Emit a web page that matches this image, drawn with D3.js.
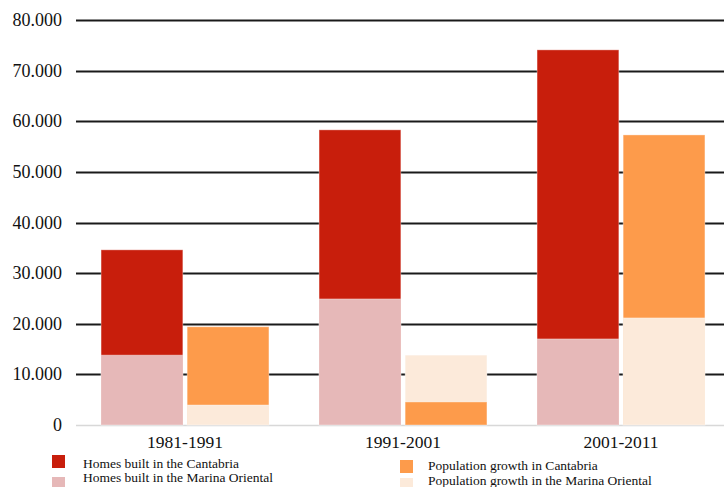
<!DOCTYPE html>
<html>
<head>
<meta charset="utf-8">
<script src="https://cdn.jsdelivr.net/npm/d3@7"></script>
<style>
  html, body { margin: 0; padding: 0; background: #fff; }
  svg { display: block; }
  text { font-family: "Liberation Serif", "DejaVu Serif", serif; fill: #111; }
</style>
</head>
<body>
<svg id="chart" width="724" height="487"></svg>
<script>
// Decades compared
const periods = ["1981-1991", "1991-2001", "2001-2011"];

// Housing built per decade
const homesCantabria = [34600, 58300, 74100];
const homesMarina = [13800, 24900, 17000];

// Population growth per decade
const popCantabria = [19400, 4550, 57300];
const popMarina = [3950, 13800, 21150];

// Axis ticks
const yTicks = [0, 10000, 20000, 30000, 40000, 50000, 60000, 70000, 80000];
const yTickLabels = ["0", "10.000", "20.000", "30.000", "40.000", "50.000", "60.000", "70.000", "80.000"];

const seriesNames = ["Homes built in the Cantabria", "Homes built in the Marina Oriental",
                     "Population growth in Cantabria", "Population growth in the Marina Oriental"];
const colors = {
  homesCantabria: "#C81E0C",
  homesMarina: "#E6B8B8",
  popCantabria: "#FD9B4B",
  popMarina: "#FCEADA"
};

const svg = d3.select("#chart");

const y = d3.scaleLinear().domain([0, 80000]).range([425, 20]);
const x0 = d3.scaleBand().domain(periods).range([76, 730]).paddingInner(0.23).paddingOuter(0.115);
const x1 = d3.scaleBand().domain(["homes", "pop"]).range([0, x0.bandwidth()]).paddingInner(0.05);

// Horizontal gridlines
svg.append("g").selectAll("line")
  .data(yTicks)
  .join("line")
  .attr("x1", 76).attr("x2", 724)
  .attr("y1", d => Math.round(y(d)) + 0.5).attr("y2", d => Math.round(y(d)) + 0.5)
  .attr("stroke", d => d === 0 ? "#d8d8d8" : "#1a1a1a")
  .attr("stroke-width", d => d === 0 ? 1.5 : 2);

// Y tick labels
svg.append("g").selectAll("text")
  .data(yTicks)
  .join("text")
  .attr("x", 62)
  .attr("y", d => y(d) + 6)
  .attr("text-anchor", "end")
  .attr("font-size", 18)
  .text((d, i) => yTickLabels[i]);

// Overlaid bars: the larger value sits behind, the smaller in front
const groups = svg.append("g").selectAll("g")
  .data(periods)
  .join("g")
  .attr("transform", d => `translate(${x0(d)},0)`);

function overlay(bigVals, smallVals, bigColor, smallColor, i) {
  const a = { v: bigVals[i], c: bigColor };
  const b = { v: smallVals[i], c: smallColor };
  return a.v >= b.v ? [a, b] : [b, a];
}

groups.each(function (p, i) {
  const g = d3.select(this);
  const sets = [
    { key: "homes", bars: overlay(homesCantabria, homesMarina, colors.homesCantabria, colors.homesMarina, i) },
    { key: "pop", bars: overlay(popCantabria, popMarina, colors.popCantabria, colors.popMarina, i) }
  ];
  sets.forEach(s => {
    g.selectAll(null)
      .data(s.bars)
      .join("rect")
      .attr("x", x1(s.key))
      .attr("width", x1.bandwidth())
      .attr("y", d => y(d.v))
      .attr("height", d => y(0) - y(d.v))
      .attr("fill", d => d.c)
      .attr("stroke", "rgba(255,255,255,0.35)")
      .attr("stroke-width", 1);
  });
});

// Category labels
svg.append("g").selectAll("text")
  .data(periods)
  .join("text")
  .attr("x", d => x0(d) + x0.bandwidth() / 2)
  .attr("y", 448)
  .attr("text-anchor", "middle")
  .attr("font-size", 17.5)
  .text(d => d);

// Legend
const legendItems = [
  { name: seriesNames[0], color: colors.homesCantabria, sx: 52, sy: 455, tx: 83, ty: 468 },
  { name: seriesNames[1], color: colors.homesMarina, sx: 52, sy: 477, tx: 83, ty: 482 },
  { name: seriesNames[2], color: colors.popCantabria, sx: 400, sy: 460, tx: 428, ty: 470 },
  { name: seriesNames[3], color: colors.popMarina, sx: 400, sy: 478, tx: 428, ty: 485 }
];
const legend = svg.append("g").selectAll("g")
  .data(legendItems)
  .join("g");
legend.append("rect")
  .attr("x", d => d.sx).attr("y", d => d.sy)
  .attr("width", 13).attr("height", 13)
  .attr("fill", d => d.color);
legend.append("text")
  .attr("x", d => d.tx).attr("y", d => d.ty)
  .attr("font-size", 13.5)
  .text(d => d.name);
</script>
</body>
</html>
